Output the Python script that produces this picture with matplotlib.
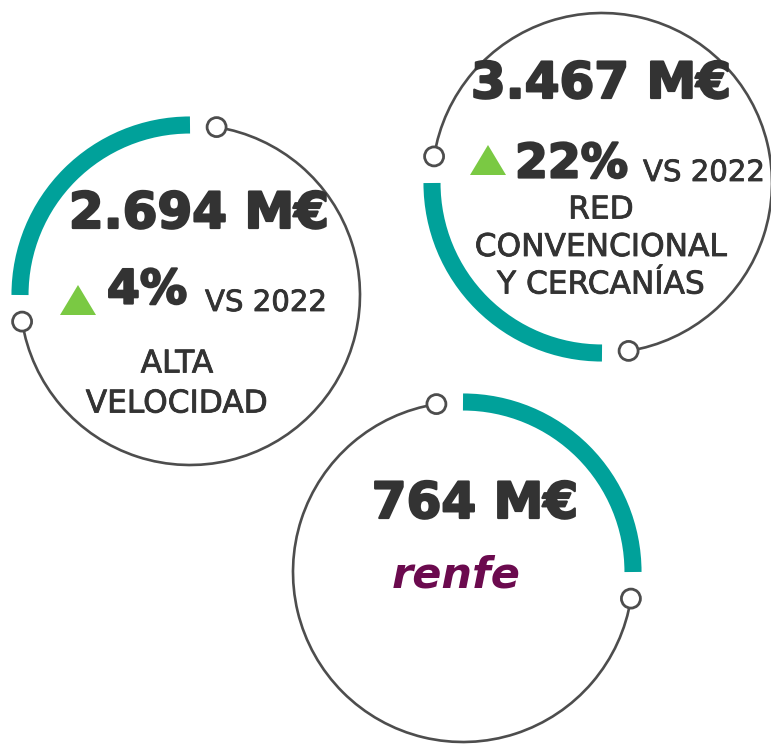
import math
import matplotlib
matplotlib.use("Agg")
import matplotlib.pyplot as plt
import matplotlib.patheffects as pe
from matplotlib.patches import Arc, Circle, Polygon

# values shown in each ring
amounts = ["2.694 M€", "3.467 M€", "764 M€"]
growth = ["4%", "22%", None]
compare = ["VS 2022", "VS 2022", None]
labels = [["ALTA", "VELOCIDAD"], ["RED", "CONVENCIONAL", "Y CERCANÍAS"], []]
brand = [None, None, "renfe"]
# teal arc of each ring (degrees, counter clockwise)
arc_start = [90, 180, 0]
arc_span = [90, 90, 90]

W, H = 771, 744
TEAL = "#00A19A"
GREY = "#4D4D4D"
DARK = "#333333"
GREEN = "#7AC943"
PURPLE = "#6B0A4E"

# layout in pixels (x from left, y from top)
centers = [(190, 295), (602, 183), (463, 572)]
amount_pos = [(199, 214), (601, 84), (475, 504)]
tri_pos = [(78, 300), (488, 160), None]
growth_pos = [(107, 291), (515, 165), None]
compare_pos = [(205, 303), (643, 173), None]
label_pos = [(177, 364, 40), (601, 210, 37.5), None]
brand_pos = [None, None, (456, 575)]
R = 170
GAP = 9

# heavier look for the big figures
heavy = [pe.withStroke(linewidth=1.6, foreground=DARK)]
medium = [pe.withStroke(linewidth=0.6, foreground=DARK)]

fig = plt.figure(figsize=(W / 100, H / 100), dpi=100)
ax = fig.add_axes([0, 0, 1, 1])
ax.set_xlim(0, W)
ax.set_ylim(0, H)
ax.set_aspect("equal")
ax.axis("off")

def Y(y):
    return H - y

for i in range(3):
    cx, cy = centers[i]
    c = (cx, Y(cy))
    t1 = arc_start[i]
    t2 = t1 + arc_span[i]
    # teal part
    ax.add_patch(Arc(c, 2 * R, 2 * R, theta1=t1, theta2=t2, color=TEAL, lw=12.3, capstyle="butt"))
    # grey part with a node at both ends
    g1 = t2 + GAP
    g2 = t1 - GAP + 360
    ax.add_patch(Arc(c, 2 * R, 2 * R, theta1=g1, theta2=g2, color=GREY, lw=1.9))
    for a in (g1, g2):
        nx = c[0] + R * math.cos(math.radians(a))
        ny = c[1] + R * math.sin(math.radians(a))
        ax.add_patch(Circle((nx, ny), 9.5, facecolor="white", edgecolor=GREY, lw=2.0, zorder=5))

    # main amount
    ax.text(amount_pos[i][0], Y(amount_pos[i][1]), amounts[i], ha="center", va="center",
            fontsize=36, fontweight="bold", color=DARK, path_effects=heavy)

    if growth[i]:
        tx, ty = tri_pos[i]
        ax.add_patch(Polygon([(tx - 18, Y(ty + 15)), (tx + 18, Y(ty + 15)), (tx, Y(ty - 15))],
                             closed=True, color=GREEN, lw=0))
        ax.text(growth_pos[i][0], Y(growth_pos[i][1]), growth[i], ha="left", va="center",
                fontsize=34, fontweight="bold", color=DARK, path_effects=heavy)
        ax.text(compare_pos[i][0], Y(compare_pos[i][1]), compare[i], ha="left", va="center",
                fontsize=21, color=DARK, path_effects=medium)

    if labels[i]:
        lx, ly, step = label_pos[i]
        for k, line in enumerate(labels[i]):
            ax.text(lx, Y(ly + k * step), line, ha="center", va="center",
                    fontsize=22.5, color=DARK, path_effects=medium)

    if brand[i]:
        bx, by = brand_pos[i]
        ax.text(bx, Y(by), brand[i], ha="center", va="center", fontsize=31,
                fontweight="bold", style="italic", color=PURPLE)

fig.savefig("out.png", dpi=100)
